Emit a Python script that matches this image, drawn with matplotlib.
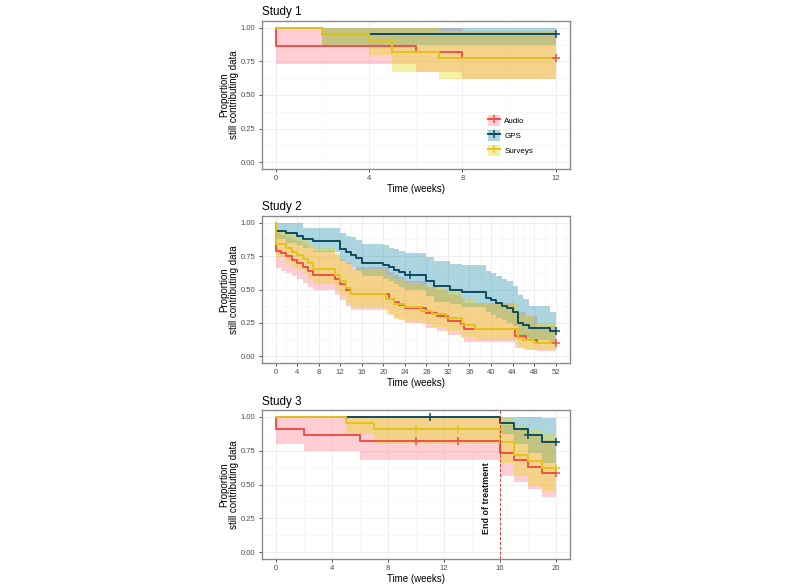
import matplotlib
matplotlib.use("Agg")
import matplotlib.pyplot as plt
from matplotlib.lines import Line2D
from matplotlib.patches import Patch
from matplotlib.ticker import MultipleLocator

plt.rcParams['font.family'] = ['Liberation Sans', 'DejaVu Sans']

groups = ["Audio", "GPS", "Surveys"]
line_colors = ["#F0504A", "#0F4C61", "#E3C41C"]
fill_colors = ["#FF7F90", "#2593AC", "#E6D911"]

# ---- Study 1 (weeks 0-12) ----
s1_audio_t = [0, 0, 6, 8]
s1_audio_s = [1.0, 0.864, 0.818, 0.773]
s1_audio_lo = [1.0, 0.734, 0.672, 0.616]
s1_audio_hi = [1.0, 1.0, 1.0, 0.975]
s1_audio_cens = [12]

s1_gps_t = [0, 2]
s1_gps_s = [1.0, 0.955]
s1_gps_lo = [1.0, 0.87]
s1_gps_hi = [1.0, 1.0]
s1_gps_cens = [12]

s1_surv_t = [0, 2, 4, 5, 7]
s1_surv_s = [1.0, 0.955, 0.909, 0.818, 0.773]
s1_surv_lo = [1.0, 0.87, 0.796, 0.672, 0.616]
s1_surv_hi = [1.0, 1.0, 1.0, 1.0, 0.975]
s1_surv_cens = []

# ---- Study 2 (weeks 0-52) ----
s2_audio_t = [0, 0, 1, 2, 3, 4, 5, 6, 7, 11, 12, 13, 14, 21, 22, 23, 24, 28, 30, 32, 34.5, 35, 44.5, 46.5, 48.5]
s2_audio_s = [1.0, 0.79, 0.77, 0.75, 0.72, 0.70, 0.67, 0.64, 0.61, 0.575, 0.54, 0.50, 0.467, 0.43, 0.41, 0.385,
              0.36, 0.322, 0.30, 0.265, 0.24, 0.205, 0.15, 0.125, 0.10]
s2_audio_lo = [1.0, 0.66, 0.64, 0.62, 0.60, 0.58, 0.55, 0.52, 0.50, 0.46, 0.42, 0.38, 0.35, 0.31, 0.29, 0.27,
               0.25, 0.21, 0.19, 0.16, 0.14, 0.11, 0.065, 0.05, 0.04]
s2_audio_hi = [1.0, 0.92, 0.91, 0.89, 0.87, 0.86, 0.84, 0.81, 0.79, 0.76, 0.73, 0.70, 0.67, 0.63, 0.61, 0.59,
               0.56, 0.52, 0.50, 0.46, 0.43, 0.40, 0.33, 0.30, 0.23]
s2_audio_cens = [52]

s2_gps_t = [0, 0, 2, 4, 5, 7, 12, 13, 14, 15, 16, 20, 21, 22, 23, 24, 28, 29.5, 32.3, 34.7, 39, 40, 41, 42, 43,
            44, 45, 46, 47, 51]
s2_gps_s = [1.0, 0.94, 0.92, 0.90, 0.88, 0.86, 0.80, 0.78, 0.76, 0.735, 0.70, 0.68, 0.665, 0.645, 0.63, 0.61,
            0.565, 0.525, 0.50, 0.485, 0.44, 0.42, 0.40, 0.38, 0.36, 0.335, 0.25, 0.235, 0.21, 0.186]
s2_gps_lo = [1.0, 0.88, 0.85, 0.83, 0.81, 0.78, 0.71, 0.69, 0.67, 0.64, 0.60, 0.58, 0.56, 0.54, 0.52, 0.50,
             0.45, 0.41, 0.39, 0.37, 0.33, 0.31, 0.29, 0.27, 0.25, 0.23, 0.15, 0.14, 0.12, 0.10]
s2_gps_hi = [1.0, 1.0, 1.0, 1.0, 0.96, 0.96, 0.92, 0.90, 0.89, 0.87, 0.84, 0.83, 0.81, 0.80, 0.79, 0.77,
             0.74, 0.71, 0.69, 0.68, 0.64, 0.62, 0.60, 0.58, 0.56, 0.53, 0.46, 0.43, 0.38, 0.335]
s2_gps_cens = [25, 52]

s2_surv_t = [0, 0, 2, 3, 4, 5, 6, 7, 11, 12, 13, 14, 20.5, 22, 24, 27, 29, 31.7, 34.7, 37, 45, 46, 48]
s2_surv_s = [1.0, 0.84, 0.81, 0.78, 0.76, 0.73, 0.70, 0.65, 0.61, 0.56, 0.51, 0.467, 0.43, 0.39, 0.367, 0.342,
             0.318, 0.288, 0.235, 0.205, 0.135, 0.12, 0.10]
s2_surv_lo = [1.0, 0.74, 0.70, 0.67, 0.65, 0.62, 0.58, 0.54, 0.50, 0.45, 0.40, 0.36, 0.32, 0.28, 0.26, 0.24,
              0.22, 0.19, 0.145, 0.12, 0.065, 0.055, 0.045]
s2_surv_hi = [1.0, 0.95, 0.93, 0.91, 0.89, 0.87, 0.85, 0.81, 0.77, 0.73, 0.69, 0.65, 0.61, 0.58, 0.55, 0.53,
              0.51, 0.48, 0.43, 0.40, 0.32, 0.30, 0.24]
s2_surv_cens = []

# ---- Study 3 (weeks 0-20) ----
s3_audio_t = [0, 0, 2, 6, 16, 17, 18, 19]
s3_audio_s = [1.0, 0.909, 0.864, 0.823, 0.73, 0.685, 0.631, 0.582]
s3_audio_lo = [1.0, 0.80, 0.745, 0.685, 0.565, 0.516, 0.467, 0.41]
s3_audio_hi = [1.0, 1.0, 1.0, 0.99, 0.94, 0.91, 0.87, 0.83]
s3_audio_cens = [10, 13, 20]

s3_gps_t = [0, 16, 17, 18, 19]
s3_gps_s = [1.0, 0.955, 0.909, 0.864, 0.813]
s3_gps_lo = [1.0, 0.87, 0.80, 0.73, 0.66]
s3_gps_hi = [1.0, 1.0, 1.0, 1.0, 0.99]
s3_gps_cens = [11, 18, 20]

s3_surv_t = [0, 5, 7, 16, 17, 18, 19]
s3_surv_s = [1.0, 0.955, 0.909, 0.818, 0.722, 0.676, 0.624]
s3_surv_lo = [1.0, 0.87, 0.80, 0.66, 0.56, 0.50, 0.45]
s3_surv_hi = [1.0, 1.0, 1.0, 1.0, 0.93, 0.91, 0.87]
s3_surv_cens = [10, 13, 20]

studies = [
    ("Study 1", 12, 4, [
        (s1_audio_t, s1_audio_s, s1_audio_lo, s1_audio_hi, s1_audio_cens),
        (s1_gps_t, s1_gps_s, s1_gps_lo, s1_gps_hi, s1_gps_cens),
        (s1_surv_t, s1_surv_s, s1_surv_lo, s1_surv_hi, s1_surv_cens)]),
    ("Study 2", 52, 4, [
        (s2_audio_t, s2_audio_s, s2_audio_lo, s2_audio_hi, s2_audio_cens),
        (s2_gps_t, s2_gps_s, s2_gps_lo, s2_gps_hi, s2_gps_cens),
        (s2_surv_t, s2_surv_s, s2_surv_lo, s2_surv_hi, s2_surv_cens)]),
    ("Study 3", 20, 4, [
        (s3_audio_t, s3_audio_s, s3_audio_lo, s3_audio_hi, s3_audio_cens),
        (s3_gps_t, s3_gps_s, s3_gps_lo, s3_gps_hi, s3_gps_cens),
        (s3_surv_t, s3_surv_s, s3_surv_lo, s3_surv_hi, s3_surv_cens)]),
]

# axes boxes in figure fraction (left, bottom, width, height)
boxes = [(0.327, 0.7116, 0.385, 0.2526),
         (0.327, 0.3805, 0.385, 0.2509),
         (0.327, 0.0461, 0.385, 0.254)]

fig = plt.figure(figsize=(8, 5.86), dpi=100)


def step_value_at(times, vals, x):
    v = vals[0]
    for t, s in zip(times, vals):
        if t <= x:
            v = s
    return v


for (title, tmax, tstep, series), box in zip(studies, boxes):
    ax = fig.add_axes(box)
    pad = tmax * 0.05
    ax.set_xlim(-pad, tmax + pad)
    ax.set_ylim(-0.05, 1.05)

    # confidence bands first
    for (t, s, lo, hi, cens), fc in zip(series, fill_colors):
        tt = list(t) + [tmax]
        ax.fill_between(tt, list(lo) + [lo[-1]], list(hi) + [hi[-1]], step='post',
                        color=fc, alpha=0.38, lw=0, zorder=2)
    # survival curves
    for (t, s, lo, hi, cens), lc in zip(series, line_colors):
        tt = list(t) + [tmax]
        ax.step(tt, list(s) + [s[-1]], where='post', color=lc, lw=1.4, zorder=3)
    # censor marks
    for (t, s, lo, hi, cens), lc in zip(series, line_colors):
        if cens:
            ys = [step_value_at(t, s, c) for c in cens]
            ax.plot(cens, ys, ls='none', marker='+', ms=6, mew=1.1, color=lc, zorder=4)

    ax.set_xticks(range(0, tmax + 1, tstep))
    ax.set_yticks([0, 0.25, 0.5, 0.75, 1.0])
    ax.set_yticklabels(["0.00", "0.25", "0.50", "0.75", "1.00"])
    ax.xaxis.set_minor_locator(MultipleLocator(tstep / 2))
    ax.yaxis.set_minor_locator(MultipleLocator(0.125))
    ax.grid(True, which='major', color='#EBEBEB', lw=0.6, zorder=0)
    ax.grid(True, which='minor', color='#F4F4F4', lw=0.4, zorder=0)
    ax.set_axisbelow(True)
    ax.tick_params(which='major', length=2.5, width=0.6, color='#333333',
                   labelsize=5.5, labelcolor='#4D4D4D', pad=2)
    ax.tick_params(which='minor', length=0)
    for sp in ax.spines.values():
        sp.set_color('#8A8A8A')
        sp.set_linewidth(1.0)

    ax.set_xlabel("Time (weeks)", fontsize=7.0, labelpad=1)
    ax.set_ylabel("Proportion\nstill contributing data", fontsize=7.0, labelpad=1.0, linespacing=1.05)
    ax.set_title(title, loc='left', fontsize=8.4, pad=4)

    if title == "Study 1":
        handles = [(Patch(facecolor=fc, alpha=0.38, lw=0),
                    Line2D([], [], color=lc, lw=1.4, marker='+', ms=6, mew=1.1))
                   for lc, fc in zip(line_colors, fill_colors)]
        ax.legend(handles, groups, loc='center left', bbox_to_anchor=(0.71, 0.227),
                  frameon=False, fontsize=5.8, handlelength=1.5, handleheight=1.8,
                  labelspacing=0.45, handletextpad=0.6)

    if title == "Study 3":
        ax.axvline(16, color='#D03A2A', lw=0.7, ls=(0, (3, 2)), zorder=5)
        ax.text(15.05, 0.40, "End of treatment", rotation=90, ha='center', va='center',
                fontsize=6.4, fontweight='bold', color='#111111')

fig.savefig("out.png", dpi=100)
